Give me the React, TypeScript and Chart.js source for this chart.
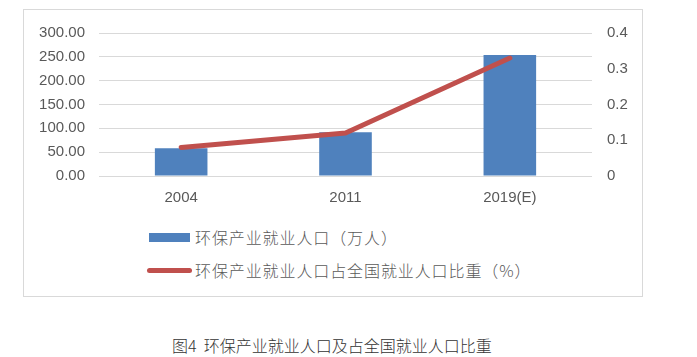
import React, { useEffect, useRef } from "react";
import { Chart, registerables } from "chart.js";

Chart.register(...registerables);

const categories = ["2004", "2011", "2019(E)"];
const employment = [58.3, 91.7, 254];
const share = [0.08, 0.12, 0.33];
const leftTicks = [0, 50, 100, 150, 200, 250, 300];
const rightTicks = [0, 0.1, 0.2, 0.3, 0.4];
const legendBar = "环保产业就业人口（万人）";
const legendLine = "环保产业就业人口占全国就业人口比重（%）";
const caption = "图4  环保产业就业人口及占全国就业人口比重";

const BLUE = "#4f81bd";
const RED = "#c0504d";
const TEXT = "#595959";
const GRID = "#d9d9d9";
const NUMFONT = "Liberation Sans";

export default function App() {
  const ref = useRef<HTMLCanvasElement | null>(null);

  useEffect(() => {
    if (!ref.current) return;
    const chart = new Chart(ref.current, {
      type: "bar",
      data: {
        labels: categories,
        datasets: [
          {
            type: "line",
            label: legendLine,
            data: share,
            yAxisID: "y1",
            borderColor: RED,
            backgroundColor: RED,
            borderWidth: 5,
            borderCapStyle: "round",
            borderJoinStyle: "round",
            pointRadius: 0,
            tension: 0,
            order: 0,
          } as any,
          {
            type: "bar",
            label: legendBar,
            data: employment,
            yAxisID: "y",
            backgroundColor: BLUE,
            categoryPercentage: 1,
            barPercentage: 0.32,
            order: 1,
          },
        ],
      },
      options: {
        responsive: false,
        animation: false,
        layout: { padding: { top: 23, left: 0, right: 0, bottom: 0 } },
        plugins: { legend: { display: false }, tooltip: { enabled: false } },
        scales: {
          x: {
            grid: { display: false, drawTicks: false },
            border: { display: false },
            ticks: {
              color: TEXT,
              padding: 13,
              font: { family: NUMFONT, size: 15 },
            },
            afterFit: (s: any) => {
              s.height = 33;
            },
          },
          y: {
            position: "left",
            min: 0,
            max: 300,
            afterBuildTicks: (s: any) => {
              s.ticks = leftTicks.map((v) => ({ value: v }));
            },
            grid: { color: GRID, lineWidth: 1, drawTicks: false },
            border: { display: false },
            ticks: {
              color: TEXT,
              padding: 14,
              font: { family: NUMFONT, size: 15 },
              callback: (v: any) => Number(v).toFixed(2),
            },
            afterFit: (s: any) => {
              s.width = 76;
            },
          },
          y1: {
            position: "right",
            min: 0,
            max: 0.4,
            afterBuildTicks: (s: any) => {
              s.ticks = rightTicks.map((v) => ({ value: v }));
            },
            grid: { display: false, drawTicks: false },
            border: { display: false },
            ticks: {
              color: TEXT,
              padding: 15,
              font: { family: NUMFONT, size: 15 },
              callback: (v: any) => String(Math.round(Number(v) * 10) / 10),
            },
            afterFit: (s: any) => {
              s.width = 50;
            },
          },
        },
      },
    });
    return () => chart.destroy();
  }, []);

  const cjk = '"Noto Sans CJK SC", "Noto Sans", sans-serif';

  return (
    <div
      style={{
        position: "fixed",
        left: 0,
        top: 0,
        width: 697,
        height: 357,
        background: "#fff",
        overflow: "hidden",
      }}
    >
      <div
        style={{
          position: "absolute",
          left: 23,
          top: 9,
          width: 620,
          height: 288,
          border: `1px solid ${GRID}`,
          boxSizing: "border-box",
        }}
      />
      <canvas
        ref={ref}
        width={619}
        height={200}
        style={{ position: "absolute", left: 23, top: 9, width: 619, height: 200 }}
      />
      <div
        style={{
          position: "absolute",
          left: 149,
          top: 233,
          width: 41,
          height: 9,
          background: BLUE,
        }}
      />
      <div
        style={{
          position: "absolute",
          left: 195,
          top: 226,
          fontFamily: cjk,
          fontSize: 16,
          fontWeight: 300,
          letterSpacing: 0.9,
          lineHeight: "22px",
          color: TEXT,
          whiteSpace: "nowrap",
        }}
      >
        {legendBar}
      </div>
      <div
        style={{
          position: "absolute",
          left: 147,
          top: 268,
          width: 45,
          height: 5,
          borderRadius: 3,
          background: RED,
        }}
      />
      <div
        style={{
          position: "absolute",
          left: 195,
          top: 259,
          fontFamily: cjk,
          fontSize: 16,
          fontWeight: 300,
          letterSpacing: 0.9,
          lineHeight: "22px",
          color: TEXT,
          whiteSpace: "nowrap",
        }}
      >
        {legendLine}
      </div>
      <div
        style={{
          position: "absolute",
          left: 172,
          top: 334,
          fontFamily: cjk,
          fontSize: 16,
          fontWeight: 300,
          lineHeight: "22px",
          color: "#333",
          whiteSpace: "pre",
        }}
      >
        {caption}
      </div>
    </div>
  );
}
